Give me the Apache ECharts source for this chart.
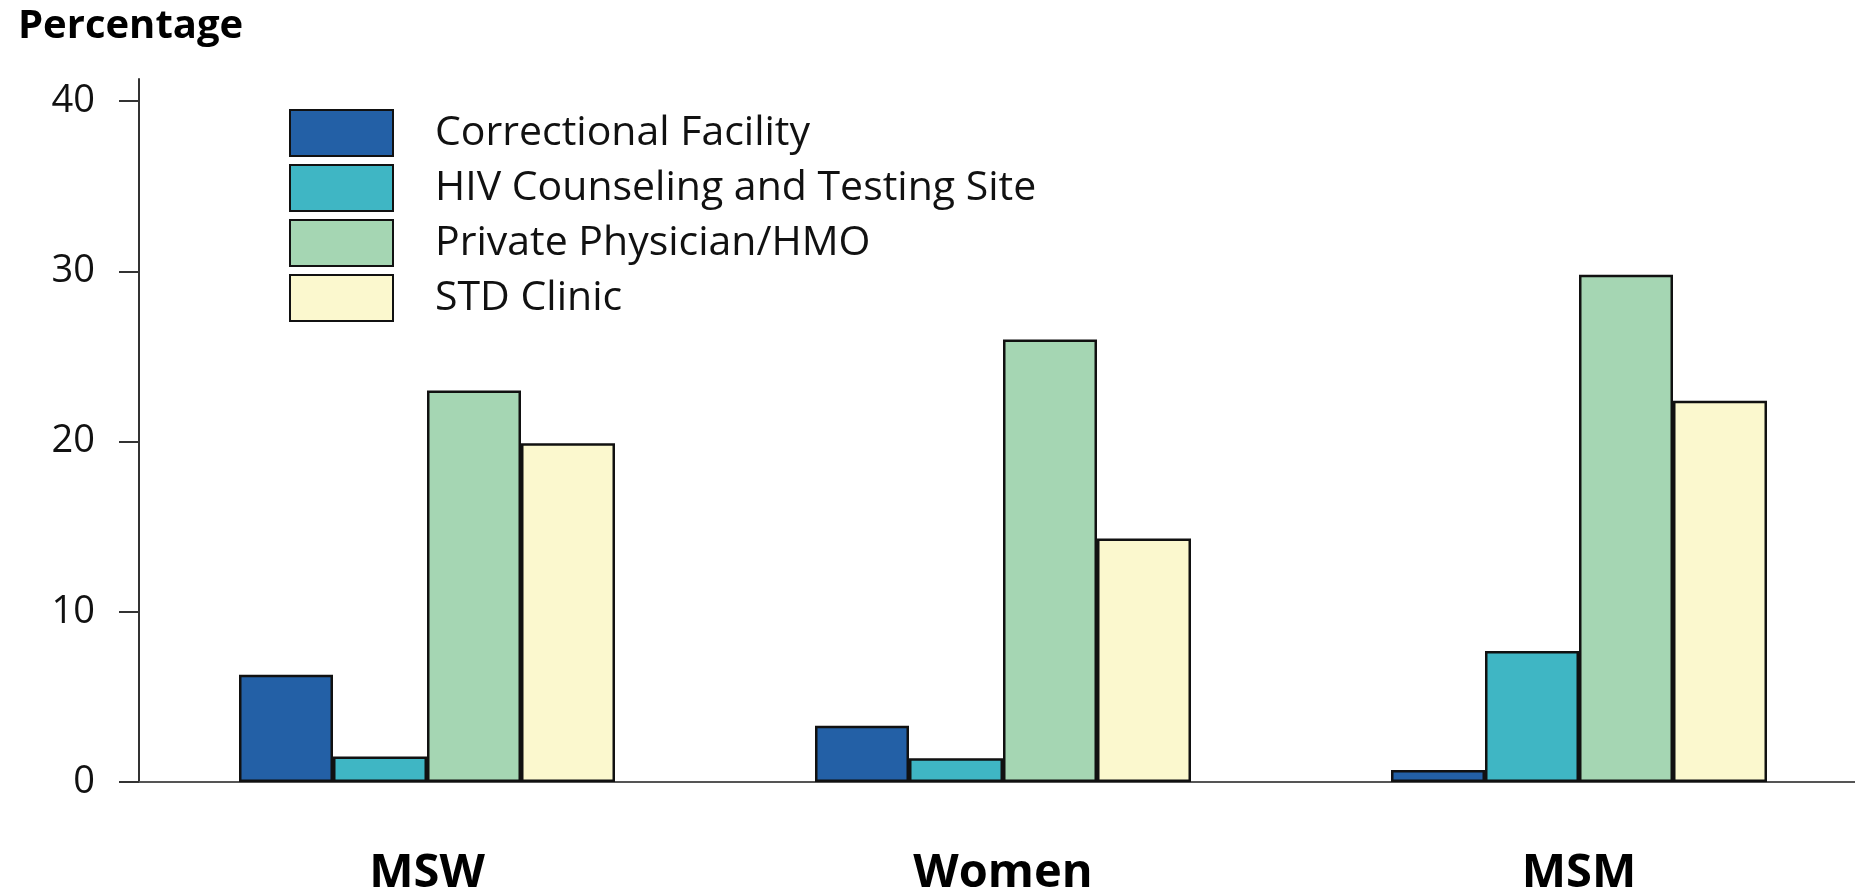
<!DOCTYPE html>
<html>
<head>
<meta charset="utf-8">
<title>Percentage by site</title>
<script src="https://cdn.jsdelivr.net/npm/echarts@6/dist/echarts.min.js"></script>
<style>
    html, body { margin: 0; padding: 0; background: #ffffff; }
    #chart_site { width: 1855px; height: 890px; }
</style>
</head>
<body>
<div id="chart_site"></div>
<script>
// 数据
var categories = ['MSW', 'Women', 'MSM'];
var seriesNames = ['Correctional Facility', 'HIV Counseling and Testing Site', 'Private Physician/HMO', 'STD Clinic'];
var data_correctional = [6.3, 3.3, 0.7];
var data_hiv = [1.5, 1.4, 7.7];
var data_private = [23.0, 26.0, 29.8];
var data_std = [19.9, 14.3, 22.4];
var yTicks = [0, 10, 20, 30, 40];

var colors = ['#2360a6', '#3fb6c4', '#a5d6b3', '#fbf8ce'];
var FONT = '"Open Sans", "Noto Sans", sans-serif';

function load_chart_site() {
    var chart_site = echarts.init(document.getElementById('chart_site'));

    var allData = [data_correctional, data_hiv, data_private, data_std];
    var series = [];
    for (var i = 0; i < seriesNames.length; i++) {
        series.push({
            name: seriesNames[i],
            type: 'bar',
            barWidth: 94,
            barGap: '0%',
            itemStyle: {
                color: colors[i],
                borderColor: '#111111',
                borderWidth: 2.5
            },
            data: allData[i]
        });
    }

    var option_site = {
        animation: false,
        title: {
            text: 'Percentage',
            left: 13,
            top: 2,
            textStyle: {
                fontFamily: FONT,
                fontWeight: 'bold',
                fontSize: 40,
                color: '#000000'
            }
        },
        legend: {
            orient: 'vertical',
            left: 284,
            top: 104,
            itemWidth: 103,
            itemHeight: 46,
            itemGap: 7,
            icon: 'rect',
            selectedMode: false,
            textStyle: {
                fontFamily: FONT,
                fontSize: 41,
                color: '#111111',
                padding: [0, 0, 0, 37]
            },
            data: seriesNames
        },
        // 坐标区超出画布，不自动收缩
        grid: {
            left: 139,
            top: 79,
            width: 1728,
            bottom: 108,
            containLabel: false,
            outerBoundsMode: 'none'
        },
        xAxis: {
            type: 'category',
            data: categories,
            axisTick: { show: false },
            axisLine: {
                lineStyle: { color: '#555555', width: 2 }
            },
            axisLabel: {
                margin: 68,
                fontFamily: FONT,
                fontWeight: 'bold',
                fontSize: 47,
                color: '#000000'
            }
        },
        yAxis: {
            type: 'value',
            min: 0,
            max: 41.3,
            interval: 10,
            splitLine: { show: false },
            axisLine: {
                show: true,
                lineStyle: { color: '#333333', width: 2 }
            },
            axisTick: {
                show: true,
                length: 20,
                customValues: yTicks,
                lineStyle: { color: '#333333', width: 2 }
            },
            axisLabel: {
                margin: 44,
                customValues: yTicks,
                fontFamily: FONT,
                fontSize: 38,
                color: '#111111'
            }
        },
        series: series
    };

    chart_site.setOption(option_site, true);
}

load_chart_site();
</script>
</body>
</html>
